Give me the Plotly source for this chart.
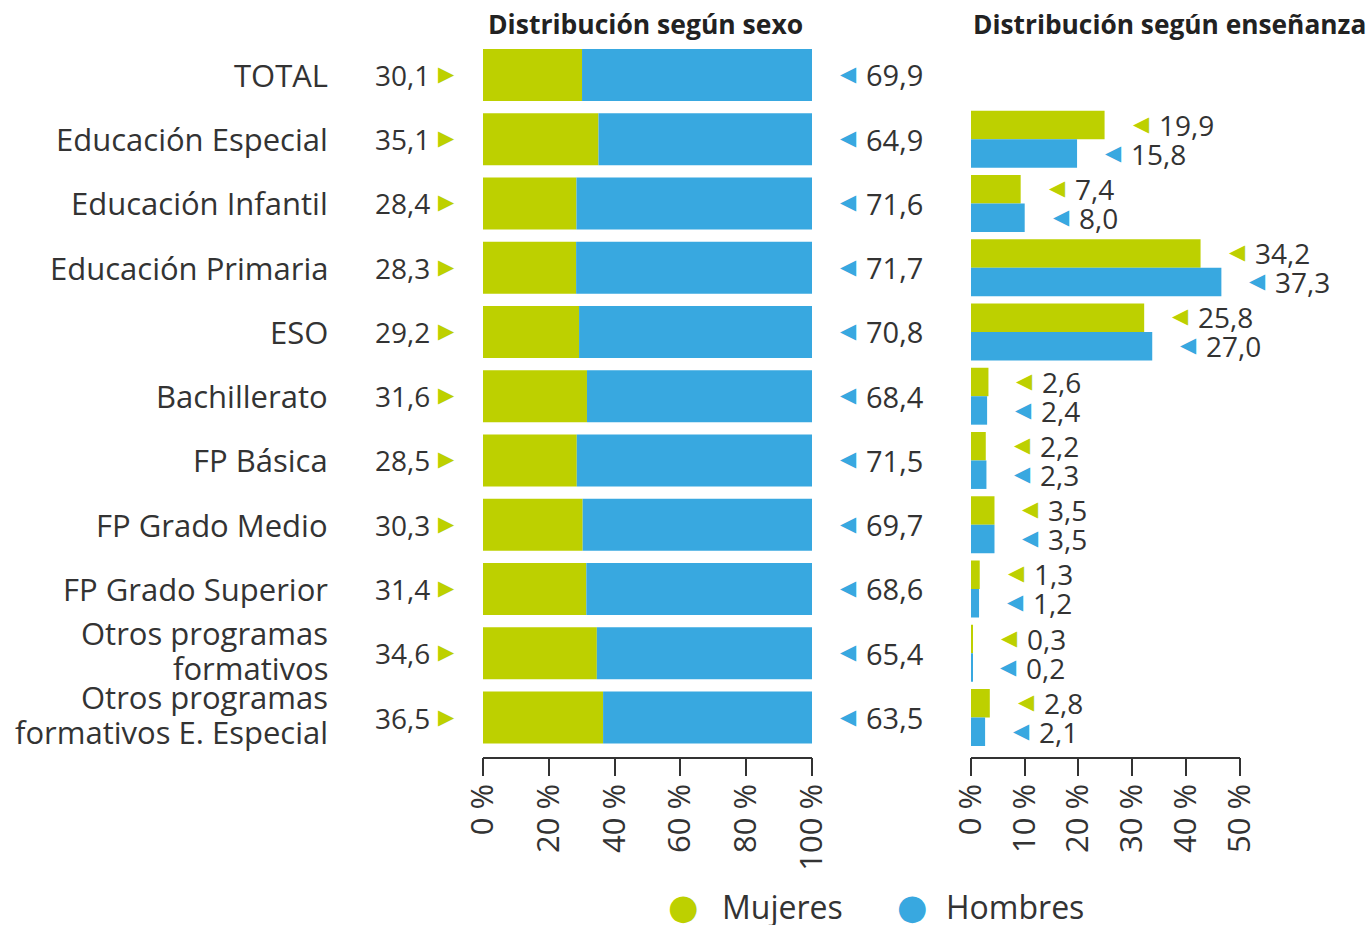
import plotly.graph_objects as go

# ---------------- data ----------------
categorias = [
    "TOTAL",
    "Educación Especial",
    "Educación Infantil",
    "Educación Primaria",
    "ESO",
    "Bachillerato",
    "FP Básica",
    "FP Grado Medio",
    "FP Grado Superior",
    "Otros programas<br>formativos",
    "Otros programas<br>formativos E. Especial",
]
mujeres_sexo = [30.1, 35.1, 28.4, 28.3, 29.2, 31.6, 28.5, 30.3, 31.4, 34.6, 36.5]
hombres_sexo = [69.9, 64.9, 71.6, 71.7, 70.8, 68.4, 71.5, 69.7, 68.6, 65.4, 63.5]

categorias_ens = categorias[1:]
mujeres_ens = [19.9, 7.4, 34.2, 25.8, 2.6, 2.2, 3.5, 1.3, 0.3, 2.8]
hombres_ens = [15.8, 8.0, 37.3, 27.0, 2.4, 2.3, 3.5, 1.2, 0.2, 2.1]

ticks_sexo = [0, 20, 40, 60, 80, 100]
# the reference's right axis is labelled 0-50 % while the bars follow a 0-40 scale
ticks_ens_pos = [0, 8, 16, 24, 32, 40]
ticks_ens_txt = [0, 10, 20, 30, 40, 50]

series = ["Mujeres", "Hombres"]

# ---------------- style ----------------
W, H = 1368, 925
VERDE = "#BDD000"
AZUL = "#38A8E0"
TEXTO = "#333333"
FONT = "Open Sans"
FS = 28
FS_CAT = 31
TRI_FONT = "DejaVu Sans"
TRI_FS = 21


def fmt(v):
    return f"{v:.1f}".replace(".", ",")


def px_x(p):
    return p / W


def px_y(p):
    return 1 - p / H


fig = go.Figure()

fig.add_trace(go.Bar(y=categorias, x=mujeres_sexo, orientation="h", name=series[0],
                     marker=dict(color=VERDE, line=dict(width=0)), width=0.81,
                     xaxis="x", yaxis="y", showlegend=False))
fig.add_trace(go.Bar(y=categorias, x=hombres_sexo, base=mujeres_sexo, orientation="h",
                     name=series[1], marker=dict(color=AZUL, line=dict(width=0)), width=0.81,
                     xaxis="x", yaxis="y", showlegend=False))
fig.add_trace(go.Bar(y=categorias_ens, x=mujeres_ens, orientation="h", name=series[0],
                     marker=dict(color=VERDE, line=dict(width=0)), width=0.443, offset=-0.443,
                     xaxis="x2", yaxis="y2", showlegend=False))
fig.add_trace(go.Bar(y=categorias_ens, x=hombres_ens, orientation="h", name=series[1],
                     marker=dict(color=AZUL, line=dict(width=0)), width=0.443, offset=0.0,
                     xaxis="x2", yaxis="y2", showlegend=False))

axis_common = dict(
    showgrid=False, zeroline=False, showline=True, linecolor=TEXTO, linewidth=1.5,
    ticks="outside", ticklen=18, tickwidth=1.5, tickcolor=TEXTO, tickangle=-90,
    tickfont=dict(family=FONT, size=31, color=TEXTO), fixedrange=True, automargin=False,
    ticklabelstandoff=-5,
)
ydom = [px_y(756.7), px_y(42.8)]
yrange = [10.61, -0.5]
yaxis_common = dict(type="category", categoryorder="array", categoryarray=categorias,
                    range=yrange, domain=ydom, showticklabels=False, showgrid=False,
                    showline=False, ticks="", zeroline=False, fixedrange=True,
                    automargin=False)

fig.update_layout(
    width=W, height=H,
    margin=dict(l=0, r=0, t=0, b=0, pad=0, autoexpand=False),
    paper_bgcolor="white", plot_bgcolor="white",
    barmode="overlay", showlegend=False,
    font=dict(family=FONT, size=FS, color=TEXTO),
    xaxis=dict(domain=[px_x(483), px_x(812)], range=[0, 100], anchor="y",
               tickvals=ticks_sexo, ticktext=[f"{t} %" for t in ticks_sexo], **axis_common),
    xaxis2=dict(domain=[px_x(971), px_x(1239.5)], range=[0, 40], anchor="y2",
                tickvals=ticks_ens_pos, ticktext=[f"{t} %" for t in ticks_ens_txt], **axis_common),
    yaxis=dict(anchor="x", **yaxis_common),
    yaxis2=dict(anchor="x2", **yaxis_common),
)

ann = []


def text_ann(x, xref, y, yref, anchor, xshift, yshift, text, color=TEXTO,
             family=FONT, size=FS):
    ann.append(dict(x=x, xref=xref, y=y, yref=yref, xanchor=anchor, yanchor="middle",
                    xshift=xshift, yshift=yshift, text=text, showarrow=False,
                    borderpad=0, font=dict(family=family, size=size, color=color)))


# category labels (multi-line ones laid out line by line, 35 px apart)
LINE = 35
for c in categorias:
    lines = c.split("<br>")
    n = len(lines)
    for i, ln in enumerate(lines):
        ys = (n - 1) / 2 * LINE - i * LINE + (3 if n > 1 else 0)
        text_ann(px_x(329), "paper", c, "y", "right", 0, ys, ln, size=FS_CAT)
# left panel value labels
for c, m, h in zip(categorias, mujeres_sexo, hombres_sexo):
    text_ann(0, "x", c, "y", "right", -52, 0, fmt(m))
    text_ann(0, "x", c, "y", "right", -27, 1, "▶", VERDE, TRI_FONT, TRI_FS)
    text_ann(100, "x", c, "y", "left", 27, 1, "◀", AZUL, TRI_FONT, TRI_FS)
    text_ann(100, "x", c, "y", "left", 53, 0, fmt(h), size=29)
# right panel value labels
for c, m, h in zip(categorias_ens, mujeres_ens, hombres_ens):
    text_ann(m, "x2", c, "y2", "left", 27, 15.5, "◀", VERDE, TRI_FONT, TRI_FS)
    text_ann(m, "x2", c, "y2", "left", 53, 14.5, fmt(m))
    text_ann(h, "x2", c, "y2", "left", 27, -13.5, "◀", AZUL, TRI_FONT, TRI_FS)
    text_ann(h, "x2", c, "y2", "left", 53, -14.5, fmt(h))
# titles
text_ann(px_x(645.5), "paper", px_y(24), "paper", "center", 0, 0,
         "<b>Distribución según sexo</b>", "#222222", FONT, 26.5)
text_ann(px_x(972), "paper", px_y(24), "paper", "left", 0, 0,
         "<b>Distribución según enseñanza</b>", "#222222", FONT, 26.3)
# legend
for name, col, cx, tx in [(series[0], VERDE, 683, 721), (series[1], AZUL, 912.5, 945)]:
    text_ann(px_x(cx), "paper", px_y(907), "paper", "center", 0, 0, "●", col, "DejaVu Sans", 35)
    text_ann(px_x(tx), "paper", px_y(906), "paper", "left", 0, 0, name, TEXTO, FONT, 32)

fig.update_layout(annotations=ann)
fig.write_html("out.html", config={"displayModeBar": False},
               post_script="document.body.style.margin='0';")
